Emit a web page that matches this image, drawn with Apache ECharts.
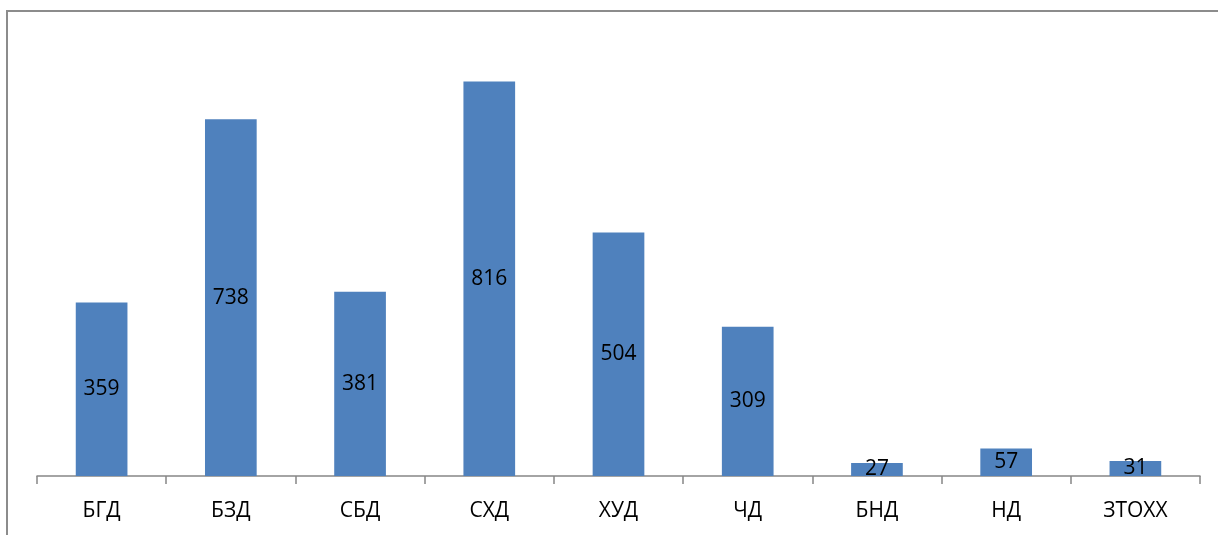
<!DOCTYPE html>
<html>
<head>
<meta charset="utf-8">
<script src="https://cdn.jsdelivr.net/npm/echarts@6/dist/echarts.min.js"></script>
<style>
  html, body { margin: 0; padding: 0; background: #fff; }
  #chart { width: 1218px; height: 535px; }
</style>
</head>
<body>
<div id="chart"></div>
<script>
const categories = ['БГД', 'БЗД', 'СБД', 'СХД', 'ХУД', 'ЧД', 'БНД', 'НД', 'ЗТОХХ'];
const counts = [359, 738, 381, 816, 504, 309, 27, 57, 31];

const chart = echarts.init(document.getElementById('chart'), null, { renderer: 'canvas' });

chart.setOption({
  animation: false,
  grid: { left: 37, right: 18, top: 41, bottom: 59 },
  graphic: [{
    type: 'polyline',
    shape: { points: [[7, 540], [7, 11], [1220, 11]] },
    style: { stroke: '#8c8c8c', lineWidth: 2, fill: null }
  }],
  xAxis: {
    type: 'category',
    data: categories,
    axisLine: { lineStyle: { color: '#868686', width: 1.5 } },
    axisTick: { show: true, length: 8, lineStyle: { color: '#868686', width: 1.5 } },
    axisLabel: {
      color: '#000',
      fontFamily: 'Open Sans',
      fontSize: 21,
      margin: 25
    }
  },
  yAxis: {
    type: 'value',
    min: 0,
    max: 900,
    show: false,
    splitLine: { show: false }
  },
  series: [{
    type: 'bar',
    data: counts,
    barWidth: '40%',
    itemStyle: { color: '#4F81BD' },
    label: {
      show: true,
      position: 'inside',
      color: '#000',
      fontFamily: 'Open Sans',
      fontSize: 21
    }
  }]
});
</script>
</body>
</html>
